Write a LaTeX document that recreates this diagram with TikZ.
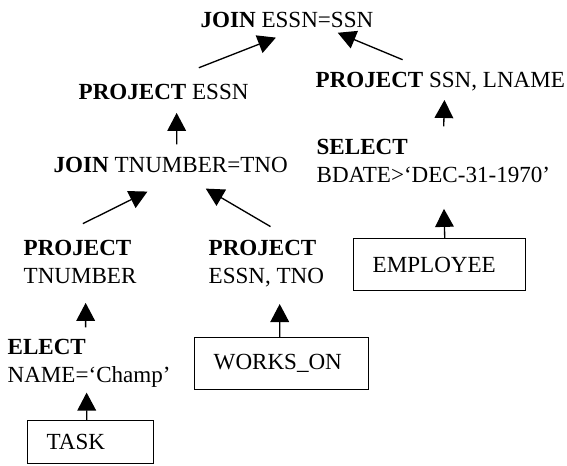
\documentclass[tikz,border=0pt]{standalone}
\usepackage{fontspec}
\setmainfont{Liberation Serif}
\usetikzlibrary{arrows.meta}

\tikzset{every picture/.style={line width=1pt}}
\tikzset{
  optext/.style={anchor=base west, inner sep=0pt, align=left, font=\fontsize{17.3pt}{21pt}\selectfont},
  relbox/.style={draw, line width=1.1pt, anchor=north west, inner xsep=14.25pt, inner ysep=0pt, align=left, font=\fontsize{17.3pt}{21pt}\selectfont},
  uparrow/.style={-{Triangle[length=13.5pt,width=14pt]}, line width=1pt}
}

\begin{document}
\begin{tikzpicture}[x=0.75pt,y=0.75pt,yscale=-1,xscale=1]
\path[use as bounding box] (0,0) rectangle (567,465);

% Text Node
\node [optext] (top) at (200,27) {\textbf{JOIN} ESSN=SSN};
% Text Node
\node [optext] (pessn) at (78,99) {\textbf{PROJECT} ESSN};
% Text Node
\node [optext] (pssn) at (315,87) {\textbf{PROJECT} SSN, LNAME};
% Text Node
\node [optext] (jtno) at (53,172) {\textbf{JOIN} TNUMBER=TNO};
% Text Node (base is the last line)
\node [optext] (sel) at (316,182) {\textbf{SELECT}\\BDATE>‘DEC-31-1970’};
% Text Node
\node [optext] (ptnum) at (23,283) {\textbf{PROJECT}\\TNUMBER};
% Text Node
\node [optext] (pessntno) at (208,283) {\textbf{PROJECT}\\ESSN, TNO};
% Text Node
\node [optext] (elect) at (7,382) {\textbf{ELECT}\\NAME=‘Champ’};

%Shape: Rectangle
\node [relbox, text width=100.5pt, minimum height=39pt] (emp) at (353,238) {EMPLOYEE};
%Shape: Rectangle
\node [relbox, text width=102pt, minimum height=39pt] (works) at (194,337) {WORKS\_ON};
%Shape: Rectangle
\node [relbox, text width=66pt, minimum height=32.25pt] (task) at (27,420) {TASK};

%Straight Lines
\draw [uparrow, shorten <=31.5pt, shorten >=20pt] ([xshift=-2.9pt]pessn.north) -- ([xshift=10.3pt]top.south);
%Straight Lines
\draw [uparrow, shorten <=22.2pt, shorten >=9.5pt] ([xshift=-7.8pt]pssn.north) -- ([xshift=29.3pt]top.south);
%Straight Lines
\draw [uparrow, shorten <=8.8pt, shorten >=9.75pt] ([xshift=4.5pt]jtno.north) -- ([xshift=9.8pt]pessn.south);
%Straight Lines
\draw [uparrow, shorten <=26pt, shorten >=31.5pt] ([xshift=-21.2pt]ptnum.north) -- ([xshift=10.8pt]jtno.south);
%Straight Lines
\draw [uparrow, shorten <=18.5pt, shorten >=23.3pt] ([xshift=19.1pt]pessntno.north) -- ([xshift=6.2pt]jtno.south);
%Straight Lines
\draw [uparrow, shorten <=8.8pt, shorten >=6.6pt] ([xshift=7.5pt]sel.north) -- ([xshift=3.3pt]pssn.south);
%Straight Lines
\draw [uparrow, shorten >=19.5pt] ([xshift=3.75pt]emp.north) -- ([xshift=7.5pt]sel.south);
%Straight Lines
\draw [uparrow, shorten <=8pt, shorten >=14.25pt] ([xshift=-2.6pt]elect.north) -- ([xshift=4.2pt]ptnum.south);
%Straight Lines
\draw [uparrow, shorten >=3.75pt] ([xshift=-3pt]task.north) -- ([xshift=-1.9pt]elect.south);
%Straight Lines
\draw [uparrow, shorten >=12.6pt] ([xshift=-1.5pt]works.north) -- ([xshift=10pt]pessntno.south);

\end{tikzpicture}
\end{document}
